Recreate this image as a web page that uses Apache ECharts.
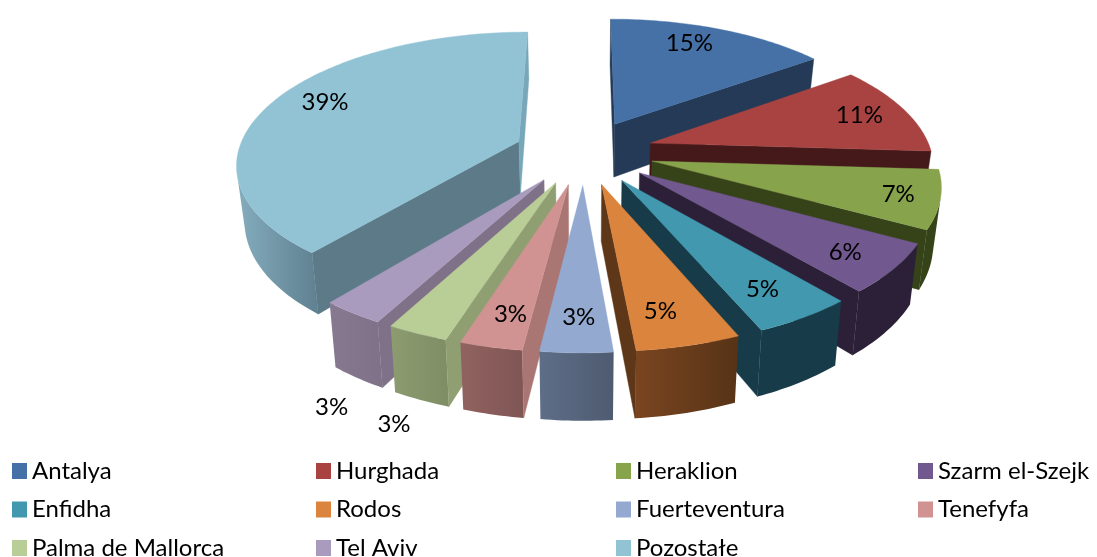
<!DOCTYPE html>
<html><head><meta charset="utf-8">
<style>html,body{margin:0;padding:0;background:#fff}#c{width:1097px;height:557px}</style>
<script src="https://cdn.jsdelivr.net/npm/echarts@6/dist/echarts.min.js"></script>
</head><body><div id="c"></div>
<script>
const categories = ['Antalya','Hurghada','Heraklion','Szarm el-Szejk','Enfidha','Rodos','Fuerteventura','Tenefyfa','Palma de Mallorca','Tel Aviv','Pozostałe'];
const values = [15,11,7,5.85,4.8,4.95,3.4,2.95,2.9,3,39.2];
const topColors = ['#4571A6','#A84341','#87A34C','#71588F','#4198AF','#DB843D','#93A9CF','#D19392','#B9CD96','#A99BBD','#91C3D5'];
const startWalls = ['#243A56','#45191A','#364319','#2B2037','#173B48','#5E3618','#6F7F9C','#A97674','#8F9F72','#7F7188','#5C7A87'];
const endWalls = ['#243A56','#45191A','#364319','#2B2037','#173B48','#5E3618','#6F7F9C','#A97674','#8F9F72','#7F7188','#78A7B9'];
const outerLeft = ['#243A56','#45191A','#364319','#2B2037','#173B48','#7A4520','#5E6E88','#916260','#8C9C70','#87798F','#84ADBE'];
const outerRight = ['#243A56','#45191A','#364319','#2B2037','#173B48','#573316','#4E5B70','#7F5654','#7E8D64','#7F7188','#5F8090'];
const labelRadius = [.81,.82,.86,.832,.813,.81,.815,.821,1.415,1.41,.815];
const labelTurn = [-3.8,0,.1,.8,.9,2.1,-.2,-.8,-6.0,-10.6,4.2];

const view = {cx:584, cy:152, radius:293, explode:73, tilt:.461, persp:.000556, pivot:78, height:57, taper:.023};
const total = values.reduce((a,b)=>a+b,0);
const rad = d => d*Math.PI/180;

function project(px,py,z){
  const p = 1/(1-view.persp*(py-view.pivot));
  return [view.cx+px*p*(1-view.taper*z), view.cy+view.tilt*py*p+view.height*p*z];
}
function cross(a,b,c){return (b[0]-a[0])*(c[1]-a[1])-(b[1]-a[1])*(c[0]-a[0]);}
const starts=[]; let acc=0; values.forEach(v=>{starts.push(acc); acc+=v;});

function makeRender(i){
  return function(params,api){
    const v = api.value(0);
    const a0 = starts[i]/total*360, a1 = a0+v/total*360, mid=(a0+a1)/2;
    const ox = view.explode*Math.sin(rad(mid)), oy = -view.explode*Math.cos(rad(mid));
    const pt = (r,a,z)=>project(ox+r*Math.sin(rad(a)), oy-r*Math.cos(rad(a)), z);
    const children=[];
    const poly=(points,fill)=>children.push({type:'polygon',shape:{points},style:{fill,stroke:typeof fill==='string'?fill:null,lineWidth:.4},silent:true});
    const n=Math.max(2,Math.ceil(a1-a0));
    const arc=[]; for(let j=0;j<=n;j++) arc.push(a0+(a1-a0)*j/n);
    // visible part of the outer rim, shaded across its screen width
    const rimTop=[],rimBot=[];
    for(let j=0;j<n;j++){
      const A=pt(view.radius,arc[j],0),B=pt(view.radius,arc[j+1],0),D=pt(view.radius,arc[j],1),C=pt(view.radius,arc[j+1],1);
      if(cross(A,B,D)<0){ if(!rimTop.length){rimTop.push(A);rimBot.push(D);} rimTop.push(B);rimBot.push(C); }
    }
    if(rimTop.length){
      const pts=rimTop.concat(rimBot.slice().reverse());
      const xs=pts.map(q=>q[0]), xMin=Math.min(...xs), xMax=Math.max(...xs);
      poly(pts,new echarts.graphic.LinearGradient(xMin,0,xMax,0,[{offset:0,color:outerLeft[i]},{offset:1,color:outerRight[i]}],true));
    }
    // inner cut faces
    const apexT=pt(0,0,0),apexB=pt(0,0,1);
    const sT=pt(view.radius,a0,0),sB=pt(view.radius,a0,1),eT=pt(view.radius,a1,0),eB=pt(view.radius,a1,1);
    if(cross(apexT,sT,sB)<0) poly([apexT,sT,sB,apexB],startWalls[i]);
    if(cross(apexT,eT,eB)>0) poly([apexT,eT,eB,apexB],endWalls[i]);
    // top face
    poly([apexT].concat(arc.map(a=>pt(view.radius,a,0))),topColors[i]);
    // percent label
    const lp=pt(view.radius*labelRadius[i],mid+labelTurn[i],0);
    children.push({type:'text',x:lp[0],y:lp[1],z2:10,silent:true,style:{text:Math.round(v/total*100)+'%',x:0,y:0,align:'center',verticalAlign:'middle',fill:'#000',font:'24px Lato'}});
    return {type:'group',children};
  };
}

const series = categories.map((name,i)=>{
  const mid=(starts[i]+values[i]/2)/total*360;
  return {type:'custom',name,coordinateSystem:'none',silent:true,animation:false,
    z:10-3*Math.cos(rad(mid)),itemStyle:{color:topColors[i]},
    data:[[values[i]]],renderItem:makeRender(i)};
});

const legendCols=[[0,4,8],[1,5,9],[2,6,10],[3,7]];
const legendLeft=[12,316,616,918];
const legend=legendCols.map((col,c)=>({
  orient:'vertical',left:legendLeft[c],top:459,height:200,padding:0,itemGap:14.5,itemWidth:15,itemHeight:16,icon:'rect',selectedMode:false,
  data:col.map(i=>categories[i]),
  textStyle:{fontFamily:'Lato',fontSize:24,color:'#000',padding:[0,0,8,0]}
}));

const chart=echarts.init(document.getElementById('c'),null,{renderer:'canvas'});
chart.setOption({animation:false,backgroundColor:'#fff',legend,series});
</script></body></html>
